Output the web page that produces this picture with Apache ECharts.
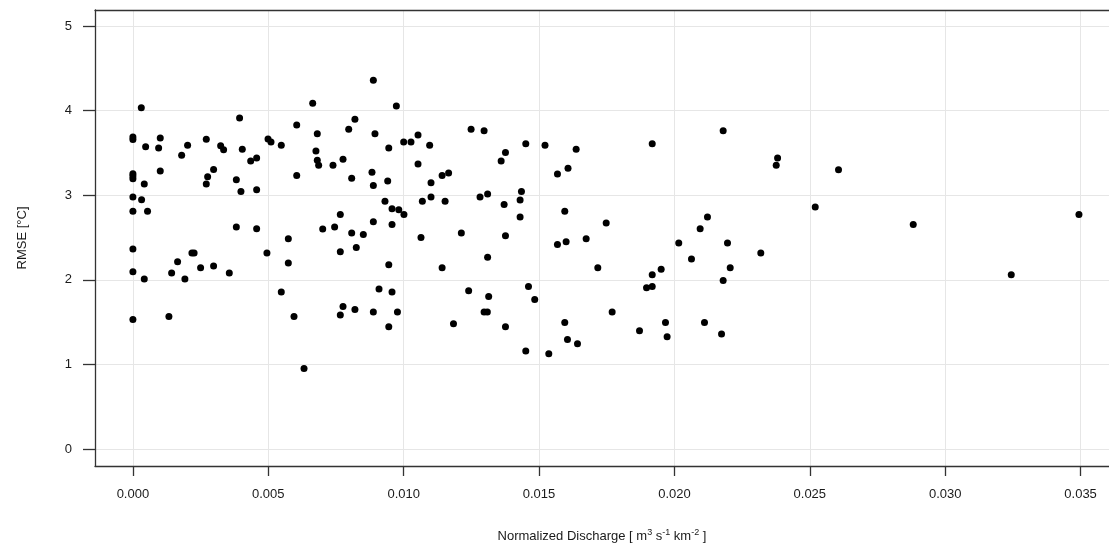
<!DOCTYPE html>
<html>
<head>
<meta charset="utf-8">
<title>RMSE vs Normalized Discharge</title>
<script src="https://cdn.jsdelivr.net/npm/echarts@6/dist/echarts.min.js"></script>
<style>
  html, body { margin: 0; padding: 0; background: #ffffff; }
  #chart { width: 1109px; height: 548px; }
</style>
</head>
<body>
<div id="chart"></div>
<script>
// Normalized discharge [m3 s-1 km-2] of each catchment
const discharge = [
  0.00031, 0.0, 0.0, 0.00047, 0.00101, 0.00095, 0.00202, 0.0018, 0.00271, 0.00324,
  0.00335, 0.00394, 0.00404, 0.00435, 0.00457, 0.00499, 0.0051, 0.00548, 0.00605, 0.0,
  0.0, 0.0, 0.00042, 0.00101, 0.00271, 0.00276, 0.00298, 0.00382, 0.00399, 0.00457,
  0.00605, 0.0, 0.00032, 0.0, 0.00054, 0.00382, 0.00457, 0.00574, 0.00495, 0.00574,
  0.0, 0.0, 0.00042, 0.00165, 0.00143, 0.00218, 0.00226, 0.00192, 0.0025, 0.00298,
  0.00356, 0.00548, 0.0, 0.00133, 0.00595,
  0.00888, 0.00664, 0.00973, 0.0082, 0.00797, 0.00681, 0.00894, 0.00676, 0.00681, 0.00686,
  0.00739, 0.00776, 0.00945, 0.0100, 0.01027, 0.01053, 0.01096, 0.01249, 0.01297, 0.01053,
  0.00883, 0.00808, 0.00888, 0.00941, 0.01101, 0.01142, 0.01166, 0.01282, 0.0131, 0.00931,
  0.00957, 0.00982, 0.01001, 0.01069, 0.01101, 0.01153, 0.00766, 0.00888, 0.00957, 0.00701,
  0.00745, 0.00808, 0.00851, 0.01064, 0.01213, 0.00766, 0.00825, 0.00945, 0.01142, 0.0131,
  0.00909, 0.00957, 0.0124, 0.01314, 0.00776, 0.00766, 0.0082, 0.00888, 0.00977, 0.00945,
  0.01184, 0.01297, 0.01309, 0.00632,
  0.01451, 0.01522, 0.01637, 0.01918, 0.01376, 0.0136, 0.01607, 0.01568, 0.01435, 0.0143,
  0.01371, 0.0143, 0.01595, 0.01748, 0.01376, 0.01568, 0.016, 0.01674, 0.02016, 0.01717,
  0.01951, 0.01918, 0.01897, 0.01918, 0.01461, 0.01484, 0.0177, 0.01376, 0.01595, 0.01605,
  0.01642, 0.01451, 0.01536, 0.01871, 0.01967, 0.01973,
  0.0218, 0.02381, 0.02376, 0.02606, 0.0252, 0.02122, 0.02095, 0.02196, 0.02063, 0.02319,
  0.02206, 0.0218, 0.02111, 0.02174,
  0.02882, 0.03244, 0.03494
];

// Root mean square error [°C] for the same catchments
const rmse = [
  4.035, 3.69, 3.66, 3.574, 3.677, 3.559, 3.59, 3.472, 3.661, 3.586,
  3.539, 3.913, 3.543, 3.405, 3.44, 3.665, 3.63, 3.59, 3.83, 3.255,
  3.228, 3.196, 3.133, 3.287, 3.133, 3.22, 3.306, 3.184, 3.046, 3.066,
  3.235, 2.98, 2.948, 2.81, 2.81, 2.624, 2.605, 2.487, 2.317, 2.199,
  2.364, 2.096, 2.01, 2.215, 2.08, 2.317, 2.317, 2.01, 2.143, 2.163,
  2.08, 1.856, 1.533, 1.568, 1.568,
  4.359, 4.087, 4.055, 3.898, 3.779, 3.728, 3.728, 3.523, 3.413, 3.354,
  3.354, 3.425, 3.559, 3.63, 3.63, 3.712, 3.59, 3.779, 3.763, 3.369,
  3.271, 3.2, 3.117, 3.168, 3.149, 3.235, 3.263, 2.979, 3.015, 2.928,
  2.841, 2.829, 2.774, 2.928, 2.979, 2.928, 2.774, 2.687, 2.656, 2.601,
  2.624, 2.553, 2.537, 2.502, 2.553, 2.333, 2.384, 2.179, 2.143, 2.266,
  1.891, 1.856, 1.871, 1.804, 1.686, 1.584, 1.651, 1.619, 1.619, 1.446,
  1.481, 1.619, 1.619, 0.953,
  3.61, 3.59, 3.543, 3.61, 3.507, 3.405, 3.318, 3.251, 3.046, 2.944,
  2.892, 2.743, 2.81, 2.672, 2.522, 2.419, 2.451, 2.486, 2.435, 2.143,
  2.127, 2.061, 1.907, 1.923, 1.923, 1.769, 1.619, 1.446, 1.497, 1.296,
  1.245, 1.158, 1.127, 1.399, 1.497, 1.327,
  3.763, 3.44, 3.354, 3.302, 2.861, 2.743, 2.605, 2.435, 2.246, 2.317,
  2.143, 1.994, 1.497, 1.359,
  2.656, 2.061, 2.774
];

// Tick positions on both axes
const xTicks = [0, 0.005, 0.01, 0.015, 0.02, 0.025, 0.03, 0.035];
const yTicks = [0, 1, 2, 3, 4, 5];

const points = discharge.map((d, i) => [d, rmse[i]]);

const textColor = '#1a1a1a';
const gridColor = '#e6e6e6';
const frameColor = '#333333';
const fontFamily = '"Liberation Sans", Arial, sans-serif';

const xRange = { min: -0.0014, max: 0.03605 };

const chart = echarts.init(document.getElementById('chart'), null, { renderer: 'canvas' });

chart.setOption({
  animation: false,
  backgroundColor: '#ffffff',
  grid: {
    left: 95,
    top: 10,
    right: 0,
    bottom: 81,
    show: false
  },
  xAxis: [{
    type: 'value',
    position: 'bottom',
    min: xRange.min,
    max: xRange.max,
    axisLine: { show: true, onZero: false, lineStyle: { color: frameColor, width: 1.3 } },
    axisTick: {
      show: true,
      inside: false,
      length: 10,
      customValues: xTicks,
      lineStyle: { color: frameColor, width: 1.3 }
    },
    axisLabel: {
      customValues: xTicks,
      margin: 22,
      color: textColor,
      fontFamily: fontFamily,
      fontSize: 13,
      formatter: v => v.toFixed(3)
    },
    splitLine: { show: true, lineStyle: { color: gridColor, width: 1 } },
    name: 'Normalized Discharge [ m{sup|3} s{sup|-1} km{sup|-2} ]',
    nameLocation: 'middle',
    nameGap: 62,
    nameTextStyle: {
      color: textColor,
      fontFamily: fontFamily,
      fontSize: 13,
      rich: {
        sup: {
          fontSize: 9,
          verticalAlign: 'bottom',
          padding: [0, 0, 8, 0],
          color: textColor,
          fontFamily: fontFamily
        }
      }
    }
  }, {
    // top edge of the plotting frame
    type: 'value',
    position: 'top',
    min: xRange.min,
    max: xRange.max,
    axisLine: { show: true, onZero: false, lineStyle: { color: frameColor, width: 1.3 } },
    axisTick: { show: false },
    axisLabel: { show: false },
    splitLine: { show: false }
  }],
  yAxis: {
    type: 'value',
    min: -0.2,
    max: 5.19,
    axisLine: { show: true, onZero: false, lineStyle: { color: frameColor, width: 1.3 } },
    axisTick: {
      show: true,
      inside: false,
      length: 12,
      customValues: yTicks,
      lineStyle: { color: frameColor, width: 1.3 }
    },
    axisLabel: {
      customValues: yTicks,
      margin: 23,
      color: textColor,
      fontFamily: fontFamily,
      fontSize: 13
    },
    splitLine: { show: true, lineStyle: { color: gridColor, width: 1 } },
    name: 'RMSE [°C]',
    nameLocation: 'middle',
    nameRotate: 90,
    nameGap: 66,
    nameTextStyle: {
      color: textColor,
      fontFamily: fontFamily,
      fontSize: 13
    }
  },
  series: [{
    type: 'scatter',
    xAxisIndex: 0,
    data: points,
    symbol: 'circle',
    symbolSize: 7,
    itemStyle: { color: '#000000', opacity: 1 },
    silent: true
  }]
});
</script>
</body>
</html>
